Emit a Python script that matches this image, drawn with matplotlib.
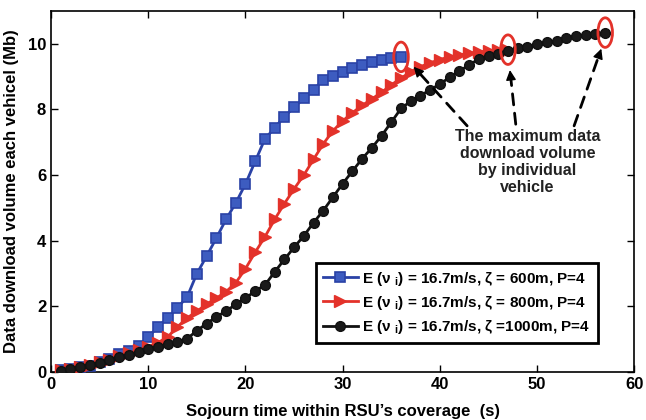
import numpy as np
import matplotlib
matplotlib.use("Agg")
import matplotlib.pyplot as plt
from matplotlib.patches import Ellipse

plt.rcParams['font.family'] = ['Liberation Sans', 'DejaVu Sans']
plt.rcParams['font.weight'] = 'bold'
plt.rcParams['mathtext.fontset'] = 'custom'
plt.rcParams['mathtext.bf'] = 'Liberation Sans:bold'
plt.rcParams['mathtext.rm'] = 'Liberation Sans:bold'

# sojourn time (s)
t_600 = list(range(1, 37))
t_800 = list(range(1, 48))
t_1000 = list(range(1, 58))

# data download volume (Mb)
v_600 = [0.05, 0.1, 0.15, 0.2, 0.3, 0.4, 0.55, 0.65, 0.8, 1.07,
         1.38, 1.65, 1.96, 2.29, 3.0, 3.53, 4.08, 4.65, 5.15, 5.73,
         6.42, 7.1, 7.44, 7.78, 8.06, 8.34, 8.6, 8.9, 9.03, 9.13,
         9.25, 9.36, 9.43, 9.5, 9.56, 9.6]
v_800 = [0.05, 0.1, 0.15, 0.22, 0.3, 0.38, 0.48, 0.57, 0.67, 0.77,
         0.9, 1.07, 1.38, 1.65, 1.85, 2.07, 2.25, 2.45, 2.72, 3.15,
         3.65, 4.12, 4.65, 5.13, 5.58, 6.0, 6.48, 6.95, 7.35, 7.65,
         7.9, 8.12, 8.32, 8.52, 8.75, 8.95, 9.15, 9.3, 9.42, 9.52,
         9.6, 9.66, 9.71, 9.75, 9.78, 9.8, 9.82]
v_1000 = [0.04, 0.11, 0.16, 0.23, 0.28, 0.36, 0.45, 0.52, 0.62, 0.69,
          0.77, 0.85, 0.92, 1.02, 1.26, 1.48, 1.68, 1.86, 2.06, 2.25,
          2.47, 2.65, 3.05, 3.43, 3.8, 4.15, 4.55, 4.92, 5.33, 5.74,
          6.12, 6.5, 6.83, 7.2, 7.61, 8.03, 8.25, 8.42, 8.6, 8.77,
          8.98, 9.16, 9.36, 9.53, 9.62, 9.7, 9.79, 9.87, 9.91, 9.99,
          10.04, 10.09, 10.17, 10.24, 10.27, 10.31, 10.34]

labels = [r'E (ν $_{\mathbf{i}}$) = 16.7m/s, ζ = 600m, P=4',
          r'E (ν $_{\mathbf{i}}$) = 16.7m/s, ζ = 800m, P=4',
          r'E (ν $_{\mathbf{i}}$) = 16.7m/s, ζ =1000m, P=4']

fig = plt.figure(figsize=(6.46, 4.2), dpi=100)
ax = fig.add_axes([0.079, 0.114, 0.903, 0.86])

ax.plot(t_600, v_600, '-s', color='#2a42a6', lw=2, ms=6.5,
        mfc='#3d5cc0', mec='#2a42a6', mew=1.2, label=labels[0], zorder=3)
ax.plot(t_800, v_800, '->', color='#e3322a', lw=2, ms=9,
        mfc='#e3322a', mec='#e3322a', label=labels[1], zorder=3)
ax.plot(t_1000, v_1000, '-o', color='#111111', lw=2, ms=7,
        mfc='#1a1a1a', mec='#111111', label=labels[2], zorder=3)

# red ellipses around the maximum of each curve
for t, v in [(t_600, v_600), (t_800, v_800), (t_1000, v_1000)]:
    ax.add_patch(Ellipse((t[-1], v[-1]), 1.5, 0.9, fill=False,
                         ec='#e3322a', lw=2, zorder=4))

# dashed arrows from the text to the maxima
starts = [(42.8, 7.5), (47.8, 7.55), (53.8, 7.5)]
ends = [(37.3, 9.3), (47.2, 9.2), (56.6, 9.85)]
for (x0, y0), (x1, y1) in zip(starts, ends):
    ax.annotate('', xy=(x1, y1), xytext=(x0, y0),
                arrowprops=dict(arrowstyle='-', ls=(0, (4, 3)), lw=2,
                                color='k', shrinkA=0, shrinkB=4))
    dx, dy = x1 - x0, y1 - y0
    ax.annotate('', xy=(x1, y1), xytext=(x1 - dx * 0.08, y1 - dy * 0.08),
                arrowprops=dict(arrowstyle='-|>,head_length=0.6,head_width=0.3',
                                lw=1, color='k', shrinkA=0, shrinkB=0))

ax.text(49, 6.4, 'The maximum data\ndownload volume\nby individual\nvehicle',
        ha='center', va='center', fontsize=11.5, fontweight='bold',
        color='#222222', linespacing=1.15)

ax.set_xlim(0, 60)
ax.set_ylim(0, 11)
ax.set_xticks(range(0, 61, 10))
ax.set_yticks(range(0, 11, 2))
ax.tick_params(direction='in', top=True, right=True, labelsize=12,
               length=5, width=1)
for lbl in ax.get_xticklabels() + ax.get_yticklabels():
    lbl.set_fontweight('bold')
for sp in ax.spines.values():
    sp.set_linewidth(1.2)

ax.set_xlabel("Sojourn time within RSU’s coverage  (s)", fontsize=12,
              fontweight='bold', labelpad=8.5)
ax.set_ylabel('Data download volume each vehicel (Mb)', fontsize=12,
              fontweight='bold', labelpad=6)

leg = ax.legend(loc='lower right', bbox_to_anchor=(0.95, 0.06),
                fontsize=11, handlelength=2.3, borderpad=0.45,
                labelspacing=0.4, handletextpad=0.3, fancybox=False,
                framealpha=1, edgecolor='k')
leg.get_frame().set_linewidth(2)
for txt in leg.get_texts():
    txt.set_fontweight('bold')

fig.savefig('out.png', dpi=100)
